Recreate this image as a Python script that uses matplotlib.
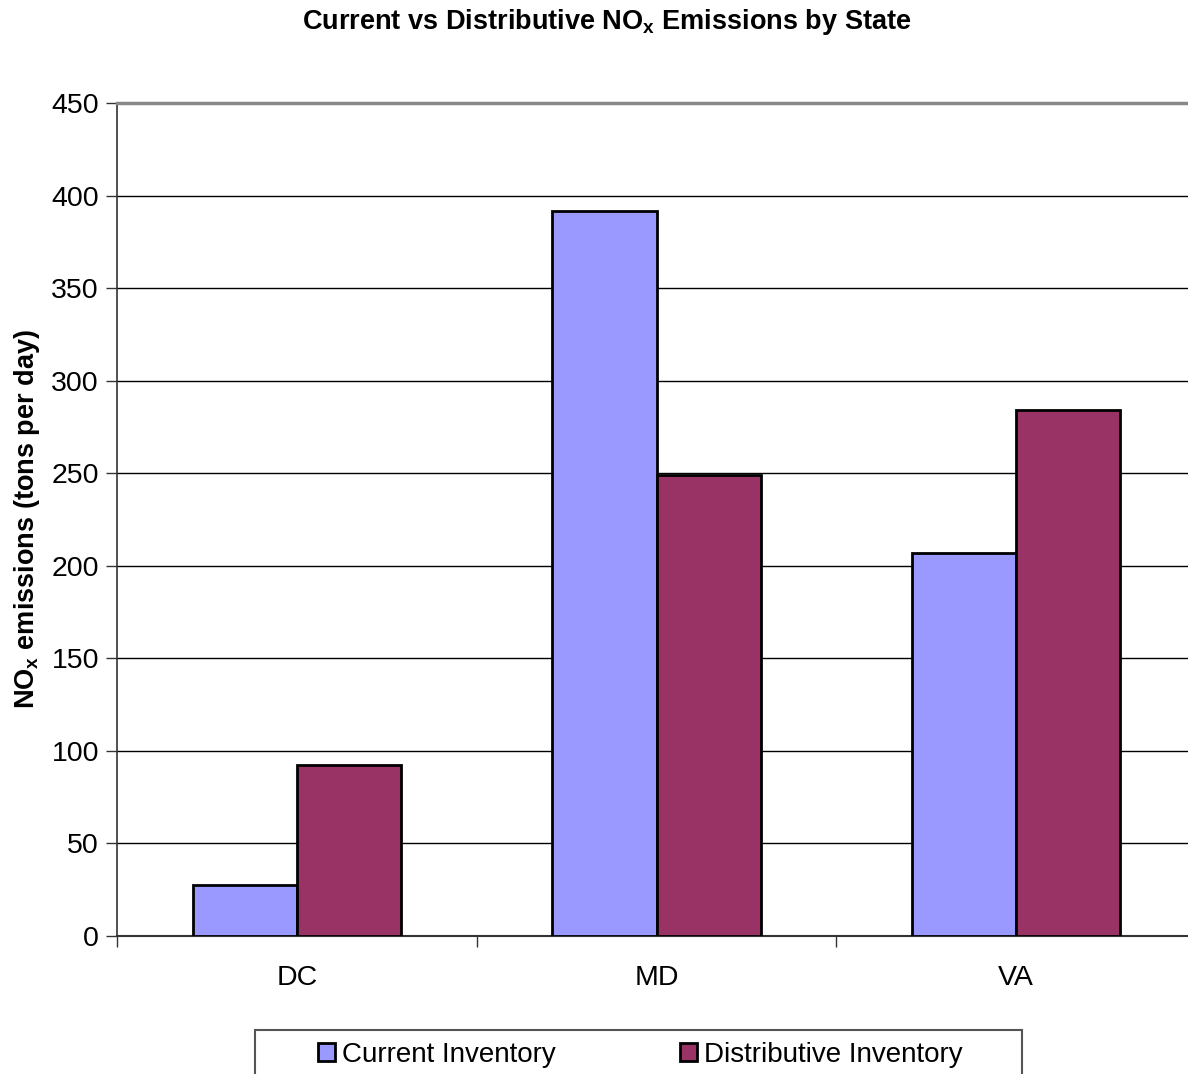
import matplotlib
matplotlib.use("Agg")
import matplotlib.pyplot as plt
import numpy as np
from matplotlib.patches import Rectangle

plt.rcParams['font.family'] = ['Liberation Sans', 'DejaVu Sans']
plt.rcParams['mathtext.fontset'] = 'custom'
plt.rcParams['mathtext.rm'] = 'Liberation Sans'
plt.rcParams['mathtext.bf'] = 'Liberation Sans:bold'

states = ['DC', 'MD', 'VA']
current = [27.5, 391.7, 206.9]
distributive = [92.4, 249.0, 284.2]
series_names = ['Current Inventory', 'Distributive Inventory']
colors = ['#9999FF', '#993366']
yticks = [0, 50, 100, 150, 200, 250, 300, 350, 400, 450]

fig = plt.figure(figsize=(11.88, 10.74), dpi=100)
ax = fig.add_axes([117/1188, 138/1074, (1196-117)/1188, (936-103)/1074])

x = np.arange(len(states))
w = 0.29
b1 = ax.bar(x - w/2, current, w, color=colors[0], edgecolor='black', linewidth=2, zorder=3, label=series_names[0])
b2 = ax.bar(x + w/2, distributive, w, color=colors[1], edgecolor='black', linewidth=2, zorder=3, label=series_names[1])

ax.set_xlim(-0.5, 2.5)
ax.set_ylim(0, 450)
ax.set_yticks(yticks)
ax.set_yticklabels([str(t) for t in yticks], fontsize=20.5)
ax.yaxis.grid(True, color='black', linewidth=1, zorder=0)
ax.set_axisbelow(True)

ax.set_xticks([-0.5, 0.5, 1.5, 2.5])
ax.set_xticklabels([])
ax.set_xticks(x, minor=True)
ax.set_xticklabels(states, minor=True, fontsize=20.5)
ax.tick_params(axis='x', which='major', direction='out', length=8, width=1, color='#333333')
ax.tick_params(axis='x', which='minor', length=0, pad=21)
ax.tick_params(axis='y', direction='out', length=8, width=1, color='#333333', pad=5)

ax.spines['right'].set_visible(False)
ax.spines['top'].set_color('#888888')
ax.spines['top'].set_linewidth(2.5)
ax.spines['left'].set_linewidth(1.2)
ax.spines['left'].set_color('#333333')
ax.spines['bottom'].set_linewidth(1.5)
ax.spines['bottom'].set_color('#333333')

ax.set_ylabel(r'NO$_\mathbf{x}$ emissions (tons per day)', fontsize=19.5, fontweight='bold', labelpad=7)
fig.text(607/1188, 1 - 22/1074, r'Current vs Distributive NO$_\mathbf{x}$ Emissions by State',
         ha='center', va='center', fontsize=19.5, fontweight='bold')

fig.patches.append(Rectangle((255/1188, -0.02), (1022-255)/1188, 0.02 + (1074-1030)/1074,
                             transform=fig.transFigure, fill=False, edgecolor='#555555', linewidth=1.5))
fig.legend(handles=[b1, b2], labels=series_names, loc='center left',
           bbox_to_anchor=(318/1188, 1 - 1055/1074), ncol=2, frameon=False, fontsize=20,
           handlelength=0.6, handleheight=0.6, handletextpad=0.25, columnspacing=4.5,
           borderpad=0, borderaxespad=0)

fig.savefig('out.png', dpi=100)
